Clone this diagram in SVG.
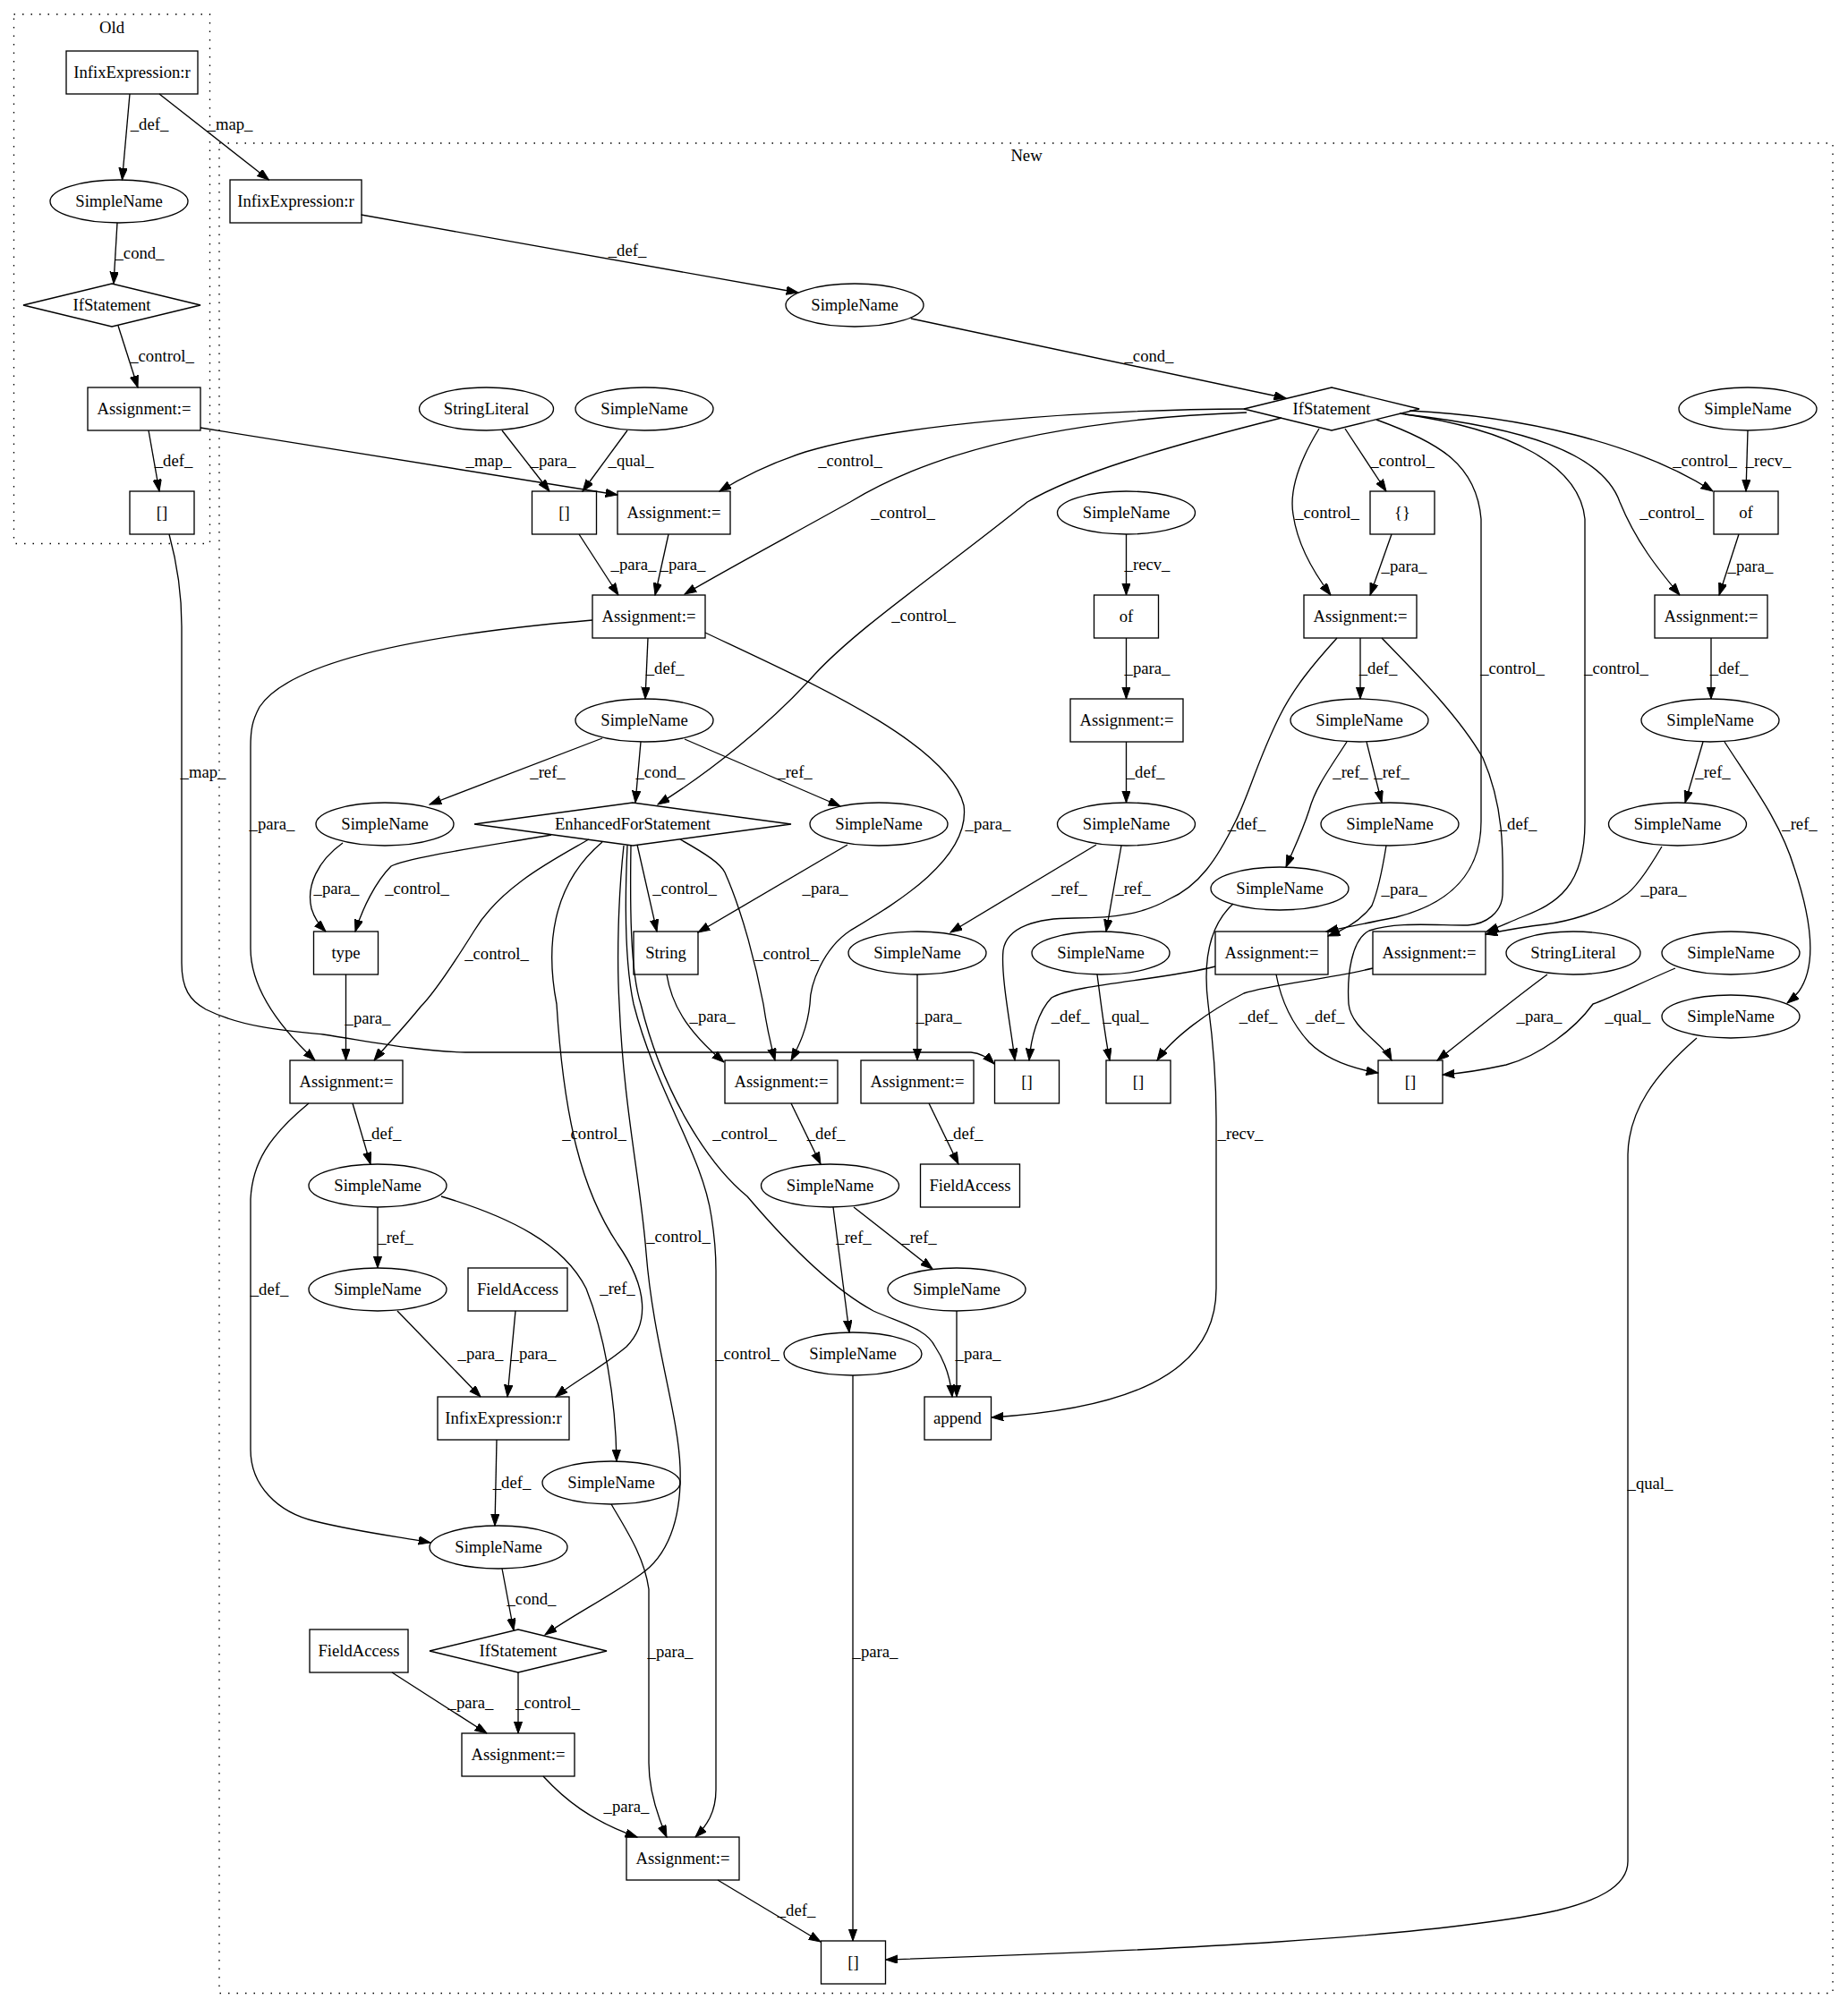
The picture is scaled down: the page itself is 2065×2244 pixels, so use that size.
<svg xmlns="http://www.w3.org/2000/svg" width="2065" height="2244" viewBox="0 0 2065 2244">
<style>
.node rect,.node ellipse,.node polygon{fill:none;stroke:#000;stroke-width:1.33}
text{font-family:"Liberation Serif","Times New Roman",serif;font-size:18.67px;text-anchor:middle;fill:#000}
#edges path{fill:none;stroke:#000;stroke-width:1.33}
.cl{fill:none;stroke:#000;stroke-width:1.33;stroke-dasharray:1.5,8}
</style>
<defs>
<marker id="ah" markerWidth="14" markerHeight="10" refX="13.3" refY="4.7" orient="auto" markerUnits="userSpaceOnUse"><path d="M0,0 L13.3,4.7 L0,9.4 z" fill="#000" stroke="#000" stroke-width="1"/></marker>
</defs>
<rect width="2065" height="2244" fill="#fff"/>
<g id="cluster-old"><rect class="cl" x="15.5" y="16" width="219" height="591.5"/><text x="125" y="37">Old</text></g>
<g id="cluster-new"><rect class="cl" x="245" y="160" width="1803" height="2067.5"/><text x="1147" y="180">New</text></g>

<g id="edges" marker-end="url(#ah)">
<path d="M145,105 L136.5,201"/><text x="167" y="145">_def_</text>
<path d="M178,105 L300.5,201"/><text x="257" y="145">_map_</text>
<path d="M131,249 L127,317"/><text x="156" y="289">_cond_</text>
<path d="M132,364 L154,433"/><text x="181" y="404">_control_</text>
<path d="M166,481 L178,549"/><text x="194" y="521">_def_</text>
<path d="M224,478 L690,553"/><text x="546" y="521">_map_</text>
<path d="M189,597 C198,630 203,660 203,700 L203,1076 C203,1105 212,1118 230,1128 C270,1148 320,1152 361,1156 C420,1165 470,1175 520,1176 L1085,1176 C1096,1177 1104,1182 1111,1189"/><text x="227" y="869">_map_</text>
<path d="M403.5,240 L892,327"/><text x="701" y="286">_def_</text>
<path d="M1018,356 L1437,445"/><text x="1284" y="404">_cond_</text>
<path d="M1392,457 C1200,458 1000,475 900,505 C860,518 830,533 804,549"/><text x="950" y="521">_control_</text>
<path d="M1393,461 C1200,468 1050,500 950,561 C880,600 820,632 765,664"/><text x="1009" y="579">_control_</text>
<path d="M1432,467 C1300,500 1200,530 1148,561 C1050,640 960,700 910,754 C860,810 790,865 735,899"/><text x="1032" y="694">_control_</text>
<path d="M1503,479 L1549,549"/><text x="1567" y="521">_control_</text>
<path d="M1474,479 C1455,510 1440,545 1445,575 C1450,610 1468,640 1487,665"/><text x="1483" y="579">_control_</text>
<path d="M1538,469 C1610,495 1650,520 1655,580 L1655,918 C1655,990 1600,1015 1560,1025 C1520,1033 1500,1037 1482,1041"/><text x="1690" y="753">_control_</text>
<path d="M1564,462 C1690,480 1765,520 1771,580 L1771,919 C1771,990 1740,1010 1700,1025 C1685,1031 1675,1036 1661,1041"/><text x="1806" y="753">_control_</text>
<path d="M1570,463 C1700,478 1790,505 1810,561 C1828,605 1852,635 1877,665"/><text x="1868" y="579">_control_</text>
<path d="M1575,459 C1700,465 1830,495 1914,549"/><text x="1905" y="521">_control_</text>
<path d="M561,481 L614,549"/><text x="618" y="521">_para_</text>
<path d="M701,481 L651,549"/><text x="705" y="521">_qual_</text>
<path d="M647,597 L691,665"/><text x="708" y="637">_para_</text>
<path d="M747,597 L732,665"/><text x="763" y="637">_para_</text>
<path d="M1258.5,597 L1258.5,665"/><text x="1282" y="637">_recv_</text>
<path d="M1953,481 L1951,549"/><text x="1976" y="521">_recv_</text>
<path d="M1555,597 L1531,665"/><text x="1569" y="639">_para_</text>
<path d="M1943,597 L1921,665"/><text x="1956" y="639">_para_</text>
<path d="M1258.5,713 L1258.5,781"/><text x="1282" y="753">_para_</text>
<path d="M724,713 L721,781"/><text x="743" y="753">_def_</text>
<path d="M662,693 C520,705 330,730 290,790 C282,805 280,815 280,835 L280,1060 C280,1110 320,1155 352,1185"/><text x="304" y="927">_para_</text>
<path d="M788,707 C900,760 1060,830 1077,900 C1085,960 1000,1010 950,1040 C920,1060 905,1100 905,1122 C902,1150 893,1168 884,1185"/><text x="1104" y="927">_para_</text>
<path d="M1520,713 L1520,781"/><text x="1540" y="753">_def_</text>
<path d="M1494,713 C1465,745 1445,770 1430,800 C1405,850 1395,890 1380,919 C1360,960 1340,990 1306,1005 C1280,1020 1250,1026 1200,1026 C1160,1026 1125,1035 1121,1062 C1118,1090 1130,1150 1134,1185"/><text x="1393" y="927">_def_</text>
<path d="M1544,713 C1580,750 1630,800 1657,847 C1680,900 1680,950 1679,1000 C1678,1020 1660,1033 1640,1034 C1600,1034 1560,1030 1530,1040 C1510,1050 1505,1090 1507,1122 C1510,1150 1545,1165 1555,1185"/><text x="1696" y="927">_def_</text>
<path d="M1912,713 L1912,781"/><text x="1932" y="753">_def_</text>
<path d="M673,825 L480,899"/><text x="612" y="869">_ref_</text>
<path d="M716,829 L710,897"/><text x="738" y="869">_cond_</text>
<path d="M765,826 L939,901"/><text x="888" y="869">_ref_</text>
<path d="M1258.5,829 L1258.5,897"/><text x="1280" y="869">_def_</text>
<path d="M1505,829 C1485,860 1470,880 1463,905 C1455,930 1445,950 1437,969"/><text x="1509" y="869">_ref_</text>
<path d="M1527,829 L1544,897"/><text x="1555" y="869">_ref_</text>
<path d="M1903,829 L1883,897"/><text x="1914" y="869">_ref_</text>
<path d="M1927,829 C1960,880 1990,920 2005,970 C2025,1030 2030,1080 2010,1108 C2006,1113 2002,1117 1997,1121"/><text x="2011" y="927">_ref_</text>
<path d="M1225,944 L1062,1042"/><text x="1195" y="999">_ref_</text>
<path d="M1253,945 L1236,1041"/><text x="1266" y="999">_ref_</text>
<path d="M383,942 C355,962 342,990 348,1015 C351,1026 357,1034 364,1041"/><text x="376" y="999">_para_</text>
<path d="M616,933 C560,943 455,958 437,968 C420,985 405,1015 397,1041"/><text x="466" y="999">_control_</text>
<path d="M712,944 L734,1041"/><text x="765" y="999">_control_</text>
<path d="M947,944 L780,1042"/><text x="922" y="999">_para_</text>
<path d="M658,938 C620,960 560,990 530,1040 C505,1080 485,1110 470,1125 C450,1150 430,1170 418,1185"/><text x="555" y="1072">_control_</text>
<path d="M760,938 C790,955 805,965 810,975 C830,1020 845,1080 853,1122 C857,1150 862,1170 866,1185"/><text x="879" y="1072">_control_</text>
<path d="M673,941 C615,990 610,1060 622,1122 C630,1250 650,1330 690,1390 C725,1440 725,1480 700,1505 C670,1530 640,1545 621,1561"/><text x="664" y="1273">_control_</text>
<path d="M697,945 C691,1000 689,1070 692,1122 C697,1240 716,1320 722,1400 C730,1500 758,1580 760,1640 C762,1700 745,1740 715,1760 C680,1785 640,1805 609,1827"/><text x="758" y="1388">_control_</text>
<path d="M705,945 C704,1010 704,1085 716,1122 C740,1220 790,1300 835,1337 C880,1390 930,1440 976,1465 C1010,1480 1035,1485 1045,1505 C1055,1520 1062,1540 1064,1561"/><text x="832" y="1273">_control_</text>
<path d="M701,945 C698,1010 699,1080 708,1122 C733,1220 785,1290 795,1360 C799,1385 800,1400 800,1420 L800,2000 C800,2025 790,2040 777,2053"/><text x="835" y="1519">_control_</text>
<path d="M386.5,1089 L386.5,1185"/><text x="411" y="1144">_para_</text>
<path d="M745,1089 C750,1120 765,1150 809,1187"/><text x="796" y="1142">_para_</text>
<path d="M1025,1089 L1025,1185"/><text x="1049" y="1142">_para_</text>
<path d="M1226,1089 C1230,1120 1235,1160 1240,1185"/><text x="1258" y="1142">_qual_</text>
<path d="M1358,1080 C1300,1095 1200,1100 1175,1115 C1160,1130 1152,1160 1150,1185"/><text x="1196" y="1142">_def_</text>
<path d="M1534,1082 C1480,1095 1420,1100 1390,1110 C1350,1130 1310,1160 1293,1185"/><text x="1406" y="1142">_def_</text>
<path d="M1426,1089 C1430,1110 1440,1140 1463,1165 C1480,1182 1505,1193 1540,1199"/><text x="1481" y="1142">_def_</text>
<path d="M1729,1089 C1700,1110 1650,1150 1606,1185"/><text x="1720" y="1142">_para_</text>
<path d="M1872,1082 C1830,1100 1800,1115 1780,1122 C1760,1150 1720,1180 1683,1190 C1660,1195 1640,1199 1612,1201"/><text x="1819" y="1142">_qual_</text>
<path d="M1549,945 C1545,970 1540,995 1533,1012 C1520,1030 1500,1040 1484,1046"/><text x="1569" y="1000">_para_</text>
<path d="M1857,946 C1840,975 1825,995 1815,1001 C1790,1020 1750,1030 1727,1033 C1700,1036 1680,1040 1660,1044"/><text x="1859" y="1000">_para_</text>
<path d="M1378,1010 C1345,1040 1346,1090 1350,1122 C1355,1160 1359,1200 1359,1250 L1359,1440 C1359,1540 1250,1575 1108,1584"/><text x="1386" y="1273">_recv_</text>
<path d="M1896,1160 C1850,1200 1820,1240 1819,1290 L1819,2080 C1819,2110 1780,2125 1740,2135 C1600,2165 1300,2180 990,2190"/><text x="1844" y="1664">_qual_</text>
<path d="M394,1233 L414,1301"/><text x="427" y="1273">_def_</text>
<path d="M345,1233 C300,1270 282,1300 280,1340 L280,1620 C280,1660 310,1690 352,1700 C400,1712 450,1718 481,1724"/><text x="301" y="1447">_def_</text>
<path d="M422,1349 L422,1417"/><text x="442" y="1389">_ref_</text>
<path d="M493,1337 C570,1360 630,1390 655,1440 C675,1490 688,1560 689,1633"/><text x="690" y="1446">_ref_</text>
<path d="M954,1349 L1042,1418"/><text x="1027" y="1389">_ref_</text>
<path d="M931,1349 L949,1489"/><text x="954" y="1389">_ref_</text>
<path d="M884,1233 L917,1301"/><text x="923" y="1273">_def_</text>
<path d="M1038,1233 L1071,1301"/><text x="1077" y="1273">_def_</text>
<path d="M444,1465 L537,1561"/><text x="537" y="1519">_para_</text>
<path d="M576,1465 L567,1561"/><text x="596" y="1519">_para_</text>
<path d="M1069,1465 L1069,1561"/><text x="1093" y="1519">_para_</text>
<path d="M953,1537 L953,2169"/><text x="978" y="1852">_para_</text>
<path d="M555,1609 L553,1705"/><text x="572" y="1663">_def_</text>
<path d="M561,1753 L574,1822"/><text x="594" y="1793">_cond_</text>
<path d="M579,1869 L579,1937"/><text x="612" y="1909">_control_</text>
<path d="M438,1869 L544,1937"/><text x="526" y="1909">_para_</text>
<path d="M607,1985 C630,2010 660,2035 712,2053"/><text x="700" y="2025">_para_</text>
<path d="M683,1681 C700,1710 720,1740 725,1776 L725,1970 C725,2000 735,2030 745,2053"/><text x="749" y="1852">_para_</text>
<path d="M802,2101 L917,2170"/><text x="890" y="2141">_def_</text>
</g>

<g id="nodes">
<g id="o1" class="node"><rect x="74" y="57" width="147" height="48"/><text x="147.5" y="87">InfixExpression:r</text></g>
<g id="o2" class="node"><ellipse cx="133" cy="225" rx="77" ry="24"/><text x="133" y="231">SimpleName</text></g>
<g id="o3" class="node"><polygon points="26,341 125,317 224,341 125,365"/><text x="125" y="347">IfStatement</text></g>
<g id="o4" class="node"><rect x="98" y="433" width="126" height="48"/><text x="161" y="463">Assignment:=</text></g>
<g id="o5" class="node"><rect x="145" y="549" width="72" height="48"/><text x="181" y="579">[]</text></g>
<g id="n1" class="node"><rect x="257" y="201" width="147" height="48"/><text x="330.5" y="231">InfixExpression:r</text></g>
<g id="n2" class="node"><ellipse cx="955" cy="341" rx="77" ry="24"/><text x="955" y="347">SimpleName</text></g>
<g id="n3" class="node"><polygon points="1390,457 1488,433 1586,457 1488,481"/><text x="1488" y="463">IfStatement</text></g>
<g id="n4" class="node"><ellipse cx="543.5" cy="457" rx="75" ry="24"/><text x="543.5" y="463">StringLiteral</text></g>
<g id="n5" class="node"><ellipse cx="720" cy="457" rx="77" ry="24"/><text x="720" y="463">SimpleName</text></g>
<g id="n6" class="node"><ellipse cx="1953" cy="457" rx="77" ry="24"/><text x="1953" y="463">SimpleName</text></g>
<g id="n7" class="node"><rect x="594.5" y="549" width="72" height="48"/><text x="630.5" y="579">[]</text></g>
<g id="n8" class="node"><rect x="690" y="549" width="126" height="48"/><text x="753" y="579">Assignment:=</text></g>
<g id="n9" class="node"><ellipse cx="1258.5" cy="573" rx="77" ry="24"/><text x="1258.5" y="579">SimpleName</text></g>
<g id="n10" class="node"><rect x="1531" y="549" width="72" height="48"/><text x="1567" y="579">{}</text></g>
<g id="n11" class="node"><rect x="1915" y="549" width="72" height="48"/><text x="1951" y="579">of</text></g>
<g id="n12" class="node"><rect x="662" y="665" width="126" height="48"/><text x="725" y="695">Assignment:=</text></g>
<g id="n13" class="node"><rect x="1222.5" y="665" width="72" height="48"/><text x="1258.5" y="695">of</text></g>
<g id="n14" class="node"><rect x="1457" y="665" width="126" height="48"/><text x="1520" y="695">Assignment:=</text></g>
<g id="n15" class="node"><rect x="1849" y="665" width="126" height="48"/><text x="1912" y="695">Assignment:=</text></g>
<g id="n16" class="node"><ellipse cx="720" cy="805" rx="77" ry="24"/><text x="720" y="811">SimpleName</text></g>
<g id="n17" class="node"><rect x="1196" y="781" width="126" height="48"/><text x="1259" y="811">Assignment:=</text></g>
<g id="n18" class="node"><ellipse cx="1519" cy="805" rx="77" ry="24"/><text x="1519" y="811">SimpleName</text></g>
<g id="n19" class="node"><ellipse cx="1911" cy="805" rx="77" ry="24"/><text x="1911" y="811">SimpleName</text></g>
<g id="n20" class="node"><ellipse cx="430" cy="921" rx="77" ry="24"/><text x="430" y="927">SimpleName</text></g>
<g id="n21" class="node"><polygon points="530,921 707,897 884,921 707,945"/><text x="707" y="927">EnhancedForStatement</text></g>
<g id="n22" class="node"><ellipse cx="982" cy="921" rx="77" ry="24"/><text x="982" y="927">SimpleName</text></g>
<g id="n23" class="node"><ellipse cx="1258.5" cy="921" rx="77" ry="24"/><text x="1258.5" y="927">SimpleName</text></g>
<g id="n24" class="node"><ellipse cx="1553" cy="921" rx="77" ry="24"/><text x="1553" y="927">SimpleName</text></g>
<g id="n25" class="node"><ellipse cx="1874.5" cy="921" rx="77" ry="24"/><text x="1874.5" y="927">SimpleName</text></g>
<g id="n26" class="node"><ellipse cx="1430" cy="993" rx="77" ry="24"/><text x="1430" y="999">SimpleName</text></g>
<g id="n27" class="node"><rect x="350.5" y="1041" width="72" height="48"/><text x="386.5" y="1071">type</text></g>
<g id="n28" class="node"><rect x="708" y="1041" width="72" height="48"/><text x="744" y="1071">String</text></g>
<g id="n29" class="node"><ellipse cx="1025" cy="1065" rx="77" ry="24"/><text x="1025" y="1071">SimpleName</text></g>
<g id="n30" class="node"><ellipse cx="1230" cy="1065" rx="77" ry="24"/><text x="1230" y="1071">SimpleName</text></g>
<g id="n31" class="node"><rect x="1358" y="1041" width="126" height="48"/><text x="1421" y="1071">Assignment:=</text></g>
<g id="n32" class="node"><rect x="1534" y="1041" width="126" height="48"/><text x="1597" y="1071">Assignment:=</text></g>
<g id="n33" class="node"><ellipse cx="1758" cy="1065" rx="75" ry="24"/><text x="1758" y="1071">StringLiteral</text></g>
<g id="n34" class="node"><ellipse cx="1934" cy="1065" rx="77" ry="24"/><text x="1934" y="1071">SimpleName</text></g>
<g id="n35" class="node"><ellipse cx="1934" cy="1136" rx="77" ry="24"/><text x="1934" y="1142">SimpleName</text></g>
<g id="n36" class="node"><rect x="324" y="1185" width="126" height="48"/><text x="387" y="1215">Assignment:=</text></g>
<g id="n37" class="node"><rect x="810" y="1185" width="126" height="48"/><text x="873" y="1215">Assignment:=</text></g>
<g id="n38" class="node"><rect x="962" y="1185" width="126" height="48"/><text x="1025" y="1215">Assignment:=</text></g>
<g id="n39" class="node"><rect x="1111.5" y="1185" width="72" height="48"/><text x="1147.5" y="1215">[]</text></g>
<g id="n40" class="node"><rect x="1236" y="1185" width="72" height="48"/><text x="1272" y="1215">[]</text></g>
<g id="n41" class="node"><rect x="1540" y="1185" width="72" height="48"/><text x="1576" y="1215">[]</text></g>
<g id="n42" class="node"><ellipse cx="422" cy="1325" rx="77" ry="24"/><text x="422" y="1331">SimpleName</text></g>
<g id="n43" class="node"><ellipse cx="927.5" cy="1325" rx="77" ry="24"/><text x="927.5" y="1331">SimpleName</text></g>
<g id="n44" class="node"><rect x="1028.5" y="1301" width="111" height="48"/><text x="1084" y="1331">FieldAccess</text></g>
<g id="n45" class="node"><ellipse cx="422" cy="1441" rx="77" ry="24"/><text x="422" y="1447">SimpleName</text></g>
<g id="n46" class="node"><rect x="523" y="1417" width="111" height="48"/><text x="578.5" y="1447">FieldAccess</text></g>
<g id="n47" class="node"><ellipse cx="1069" cy="1441" rx="77" ry="24"/><text x="1069" y="1447">SimpleName</text></g>
<g id="n48" class="node"><ellipse cx="953" cy="1513" rx="77" ry="24"/><text x="953" y="1519">SimpleName</text></g>
<g id="n49" class="node"><rect x="489" y="1561" width="147" height="48"/><text x="562.5" y="1591">InfixExpression:r</text></g>
<g id="n50" class="node"><rect x="1033" y="1561" width="74.5" height="48"/><text x="1070" y="1591">append</text></g>
<g id="n51" class="node"><ellipse cx="683" cy="1657" rx="77" ry="24"/><text x="683" y="1663">SimpleName</text></g>
<g id="n52" class="node"><ellipse cx="557" cy="1729" rx="77" ry="24"/><text x="557" y="1735">SimpleName</text></g>
<g id="n53" class="node"><polygon points="480,1845 579,1821 678,1845 579,1869"/><text x="579" y="1851">IfStatement</text></g>
<g id="n54" class="node"><rect x="346" y="1821" width="110" height="48"/><text x="401" y="1851">FieldAccess</text></g>
<g id="n55" class="node"><rect x="516" y="1937" width="126" height="48"/><text x="579" y="1967">Assignment:=</text></g>
<g id="n56" class="node"><rect x="700" y="2053" width="126" height="48"/><text x="763" y="2083">Assignment:=</text></g>
<g id="n57" class="node"><rect x="917.5" y="2169" width="72" height="48"/><text x="953.5" y="2199">[]</text></g>
</g>
</svg>
